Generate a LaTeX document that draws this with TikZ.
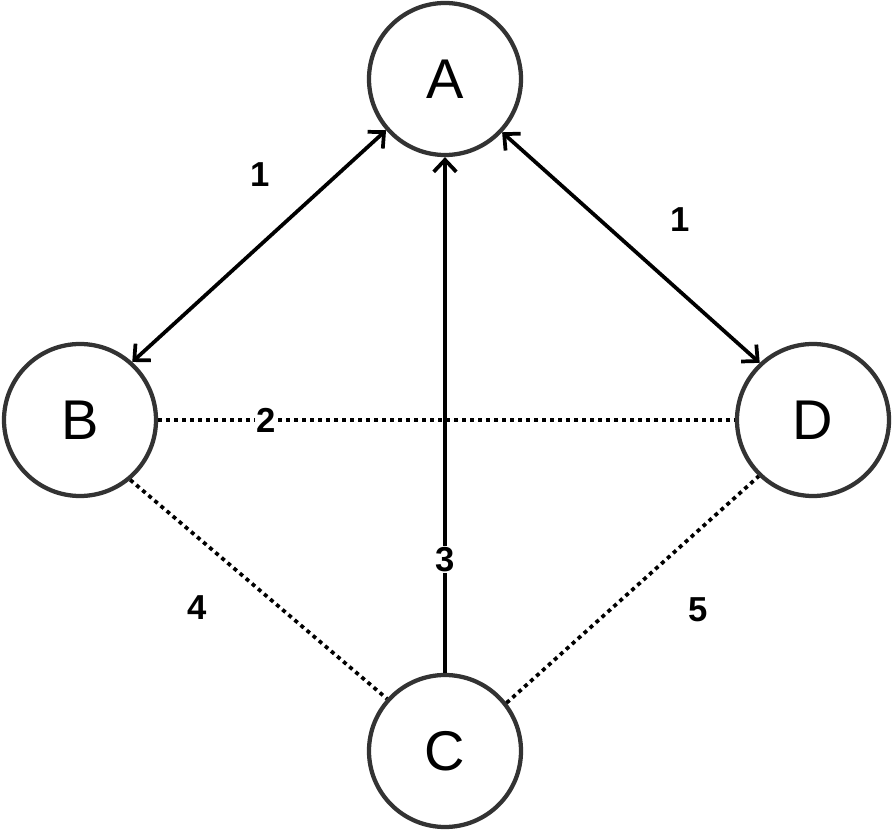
\documentclass[tikz,border=0pt]{standalone}
\usepackage{fontspec}
\setmainfont{Liberation Sans}
\usetikzlibrary{arrows.meta}
\begin{document}
\begin{tikzpicture}[x=0.75pt,y=-0.75pt,
  vert/.style={circle,draw=black!80,line width=3.2pt,minimum size=152*0.75pt,inner sep=0pt,font=\fontsize{42}{48}\selectfont},
  conn/.style={line width=2.8pt,black},
  dot/.style={conn,dash pattern=on 3pt off 3pt},
  barb/.tip={Straight Barb[length=9pt,width=17pt,line width=2.8pt]},
  lbl/.style={font=\bfseries\fontsize{26}{30}\selectfont,inner sep=1pt}]
\useasboundingbox (0,0) rectangle (894,830);
\node[vert] (A) at (445,79) {A};
\node[vert] (B) at (80,420) {B};
\node[vert] (D) at (813,420) {D};
\node[vert] (C) at (445,751) {C};
\draw[conn,barb-barb] (A.221) -- (B.48);
\draw[conn,barb-barb] (A.317) -- (D.133);
\draw[conn,-barb] (C.north) -- node[lbl,fill=white,pos=0.22] (l3) {3} (A.south);
\draw[dot] (B.east) -- node[lbl,fill=white,pos=0.187] (l2) {2} (D.west);
\draw[dot] (B.-50) -- (C.138);
\draw[dot] (C.38) -- (D.226);
\node[lbl] (l1a) at (260,175) {1};
\node[lbl] (l1b) at (680,220) {1};
\node[lbl] (l4) at (197,608) {4};
\node[lbl] (l5) at (698,610) {5};
\end{tikzpicture}
\end{document}
